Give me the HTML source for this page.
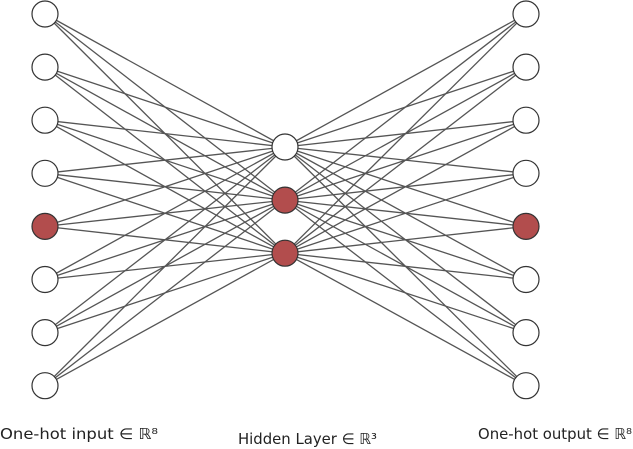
<!DOCTYPE html>
<html><head><meta charset="utf-8"><style>
html,body{margin:0;padding:0;background:#fff;}
svg{display:block;}
text{font-family:"DejaVu Sans","Liberation Sans",sans-serif;font-size:15px;fill:#222;}
</style></head><body>
<svg id="net" width="633" height="449" viewBox="0 0 633 449" xmlns="http://www.w3.org/2000/svg">
<g id="edges"></g>
<g id="nodes"></g>
<text x="0" y="439" textLength="158" lengthAdjust="spacingAndGlyphs">One-hot input ∈ ℝ⁸</text>
<text x="238" y="444" textLength="139" lengthAdjust="spacingAndGlyphs">Hidden Layer ∈ ℝ³</text>
<text x="478" y="439" textLength="154" lengthAdjust="spacingAndGlyphs">One-hot output ∈ ℝ⁸</text>
</svg>
<script>
const layerSizes = [8, 3, 8];
const activeInput = [0,0,0,0,1,0,0,0];
const activeHidden = [0,1,1];
const activeOutput = [0,0,0,0,1,0,0,0];
const layerX = [45, 285, 526];
const ns = "http://www.w3.org/2000/svg";
const edges = document.getElementById('edges');
const nodesG = document.getElementById('nodes');
function ys(n){ const c = n===8 ? 14 : 147; const out=[]; for(let i=0;i<n;i++) out.push(c+i*53.1); return out; }
const pos = layerSizes.map((n,l)=>ys(n).map(y=>[layerX[l],y]));
for(let l=0;l<2;l++){
  for(const a of pos[l]) for(const b of pos[l+1]){
    const ln=document.createElementNS(ns,'line');
    ln.setAttribute('x1',a[0]);ln.setAttribute('y1',a[1]);ln.setAttribute('x2',b[0]);ln.setAttribute('y2',b[1]);
    ln.setAttribute('stroke','#555');ln.setAttribute('stroke-width','1.3');
    
    
    edges.appendChild(ln);
  }
}
const acts=[activeInput,activeHidden,activeOutput];
const names=['input-node','hidden-node','output-node'];
pos.forEach((layer,l)=>layer.forEach((p,i)=>{
  const c=document.createElementNS(ns,'circle');
  c.setAttribute('cx',p[0]);c.setAttribute('cy',p[1]);c.setAttribute('r','13');
  c.setAttribute('fill',acts[l][i]?'#b24d4d':'#fff');
  c.setAttribute('stroke','#333');c.setAttribute('stroke-width','1.2');
  
  
  nodesG.appendChild(c);
}));
</script>
</body></html>
